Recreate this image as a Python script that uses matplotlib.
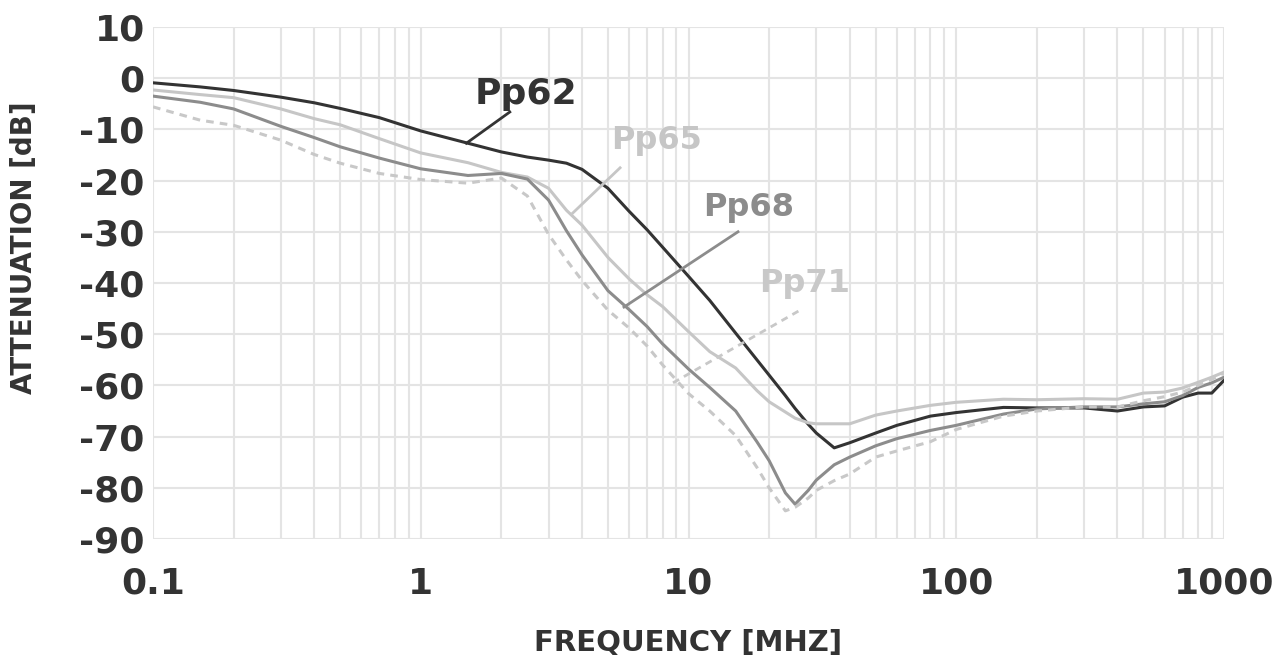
import matplotlib
matplotlib.use("Agg")
import matplotlib.pyplot as plt
from matplotlib.ticker import FixedLocator, LogLocator, NullFormatter

plt.rcParams["axes.unicode_minus"] = False

# frequency grid [MHz]
freq = [0.1, 0.15, 0.2, 0.3, 0.4, 0.5, 0.7, 1, 1.5, 2, 2.5, 3, 3.5, 4, 5, 6, 7, 8,
        10, 12, 15, 18, 20, 23, 25, 28, 30, 35, 40, 50, 60, 80, 100, 150, 200,
        300, 400, 500, 600, 700, 800, 900, 1000]

# attenuation [dB]
pp62 = [-0.9, -1.7, -2.4, -3.7, -4.8, -5.9, -7.7, -10.3, -12.7, -14.4, -15.4, -16.0,
        -16.6, -17.8, -21.5, -26.0, -29.6, -33.0, -38.7, -43.4, -49.8, -55.0, -58.0,
        -62.0, -64.5, -67.6, -69.3, -72.2, -71.2, -69.3, -67.8, -66.0, -65.3, -64.3,
        -64.4, -64.4, -65.0, -64.2, -64.0, -62.3, -61.5, -61.5, -59.0]
pp65 = [-2.3, -3.2, -3.8, -6.0, -7.9, -9.1, -11.8, -14.6, -16.5, -18.4, -19.3, -21.5,
        -25.8, -28.7, -35.0, -39.2, -42.3, -44.6, -49.5, -53.4, -56.6, -61.0, -63.2,
        -65.2, -66.4, -67.3, -67.5, -67.5, -67.5, -65.8, -65.0, -63.9, -63.3, -62.7,
        -62.8, -62.6, -62.7, -61.5, -61.3, -60.5, -59.4, -58.4, -57.4]
pp68 = [-3.5, -4.7, -6.0, -9.4, -11.6, -13.4, -15.6, -17.7, -19.0, -18.6, -19.7, -23.8,
        -29.8, -34.5, -41.5, -45.2, -48.5, -51.9, -56.8, -60.4, -65.0, -71.0, -74.7,
        -81.0, -83.2, -80.5, -78.5, -75.5, -74.0, -71.8, -70.4, -68.8, -67.8, -65.6,
        -64.6, -64.2, -64.2, -63.6, -63.2, -62.0, -60.4, -59.5, -58.4]
pp71 = [-5.6, -8.2, -9.2, -12.1, -14.9, -16.6, -18.6, -19.8, -20.5, -19.5, -23.0, -30.5,
        -35.5, -39.5, -45.3, -48.8, -52.3, -56.0, -61.6, -65.0, -69.8, -76.0, -80.0,
        -84.5, -83.8, -82.0, -80.5, -78.6, -77.3, -74.0, -72.8, -71.0, -68.6, -66.0,
        -65.0, -64.2, -64.2, -63.0, -62.2, -61.3, -60.0, -58.8, -57.6]

names = ["Pp62", "Pp65", "Pp68", "Pp71"]
colors = ["#333333", "#c6c6c6", "#8c8c8c", "#c8c8c8"]
styles = ["-", "-", "-", "--"]

# label placement: (point on curve, leader end, text centre, font size)
labels = [
    ((1.48, -12.7), (2.15, -6.6), (2.47, -3.1), 26),
    ((3.70, -26.3), (5.55, -17.5), (7.62, -12.1), 23),
    ((5.74, -44.7), (15.3, -30.0), (16.7, -25.2), 23),
    ((8.75, -59.5), (26.1, -45.3), (27.2, -40.0), 23),
]

fig = plt.figure(figsize=(12.84, 6.57), dpi=100)
ax = fig.add_axes([0.1192, 0.1796, 0.8341, 0.7793])

for vals, c, ls in zip([pp62, pp65, pp68, pp71], colors, styles):
    line, = ax.plot(freq, vals, color=c, linestyle=ls, linewidth=2.2, zorder=3)
    if ls == "--":
        line.set_dashes((2.5, 2))

for name, c, ls, (p, q, t, fs) in zip(names, colors, styles, labels):
    lead, = ax.plot([p[0], q[0]], [p[1], q[1]], color=c, linestyle=ls,
                    linewidth=2, zorder=3)
    if ls == "--":
        lead.set_dashes((2.5, 2))
    ax.text(t[0], t[1], name, color=c, fontsize=fs, fontweight="bold",
            ha="center", va="center", zorder=4)

ax.set_xscale("log")
ax.set_xlim(0.1, 1000)
ax.set_ylim(-90, 10)
ax.xaxis.set_major_locator(FixedLocator([0.1, 1, 10, 100, 1000]))
ax.xaxis.set_minor_locator(LogLocator(base=10, subs=range(2, 10)))
ax.xaxis.set_minor_formatter(NullFormatter())
ax.set_xticklabels(["0.1", "1", "10", "100", "1000"])
ax.set_yticks(range(-90, 11, 10))

ax.grid(True, which="major", color="#e4e4e4", linewidth=1.5, zorder=0)
ax.grid(True, which="minor", axis="x", color="#e4e4e4", linewidth=1.5, zorder=0)
for s in ax.spines.values():
    s.set_visible(False)

ax.tick_params(axis="both", which="both", length=0, labelcolor="#333333",
               labelsize=26)
ax.tick_params(axis="x", pad=20)
ax.tick_params(axis="y", pad=6)
for lab in ax.get_xticklabels() + ax.get_yticklabels():
    lab.set_fontweight("bold")

ax.set_xlabel("FREQUENCY [MHZ]", fontsize=21, fontweight="bold",
              color="#333333", labelpad=20)
ax.set_ylabel("ATTENUATION [dB]", fontsize=20, fontweight="bold",
              color="#333333")
ax.yaxis.set_label_coords(-0.107, 0.568)

fig.savefig("out.png", dpi=100)
